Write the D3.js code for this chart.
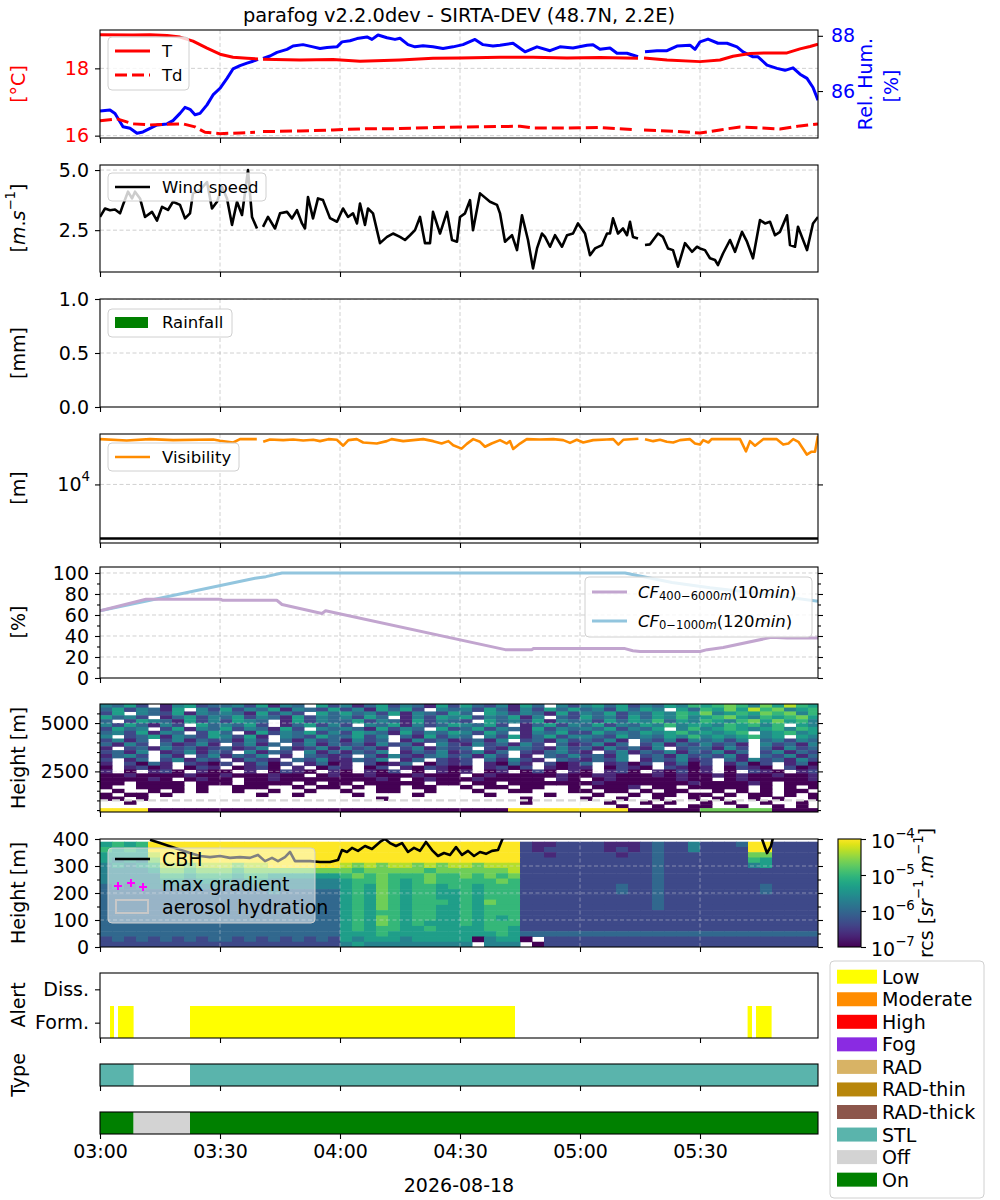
<!DOCTYPE html>
<html>
<head>
<meta charset="utf-8">
<title>parafog</title>
<script src="https://cdn.jsdelivr.net/npm/d3@7/dist/d3.min.js"></script>
<style>
  body { margin: 0; background: #fff; }
  text { font-family: "DejaVu Sans", sans-serif; }
</style>
</head>
<body>
<svg id="fig" width="1000" height="1200"></svg>
<script>
// ---- data (minutes after 03:00 UTC, 2026-08-18) ----
const tempMinutes = [0, 8.25, 12.5, 16.75, 20, 23.25, 26.75, 30, 33.25, 36.75, 39.5, 40, 40.75, 50, 58.25, 65, 75, 83.25, 90, 100, 108.25, 116.75, 125, 134.5, 135, 136, 141.75, 150, 155, 158.25, 162.5, 166.75, 171.75, 175, 177.5, 179.5];
const tempValues = [19.0, 18.99, 19.0, 18.98, 18.93, 18.81, 18.6, 18.42, 18.33, 18.3, 18.28, null, 18.27, 18.25, 18.26, 18.21, 18.25, 18.3, 18.31, 18.33, 18.33, 18.31, 18.32, 18.3, null, 18.31, 18.25, 18.2, 18.25, 18.36, 18.44, 18.46, 18.46, 18.58, 18.65, 18.72];

const dewMinutes = [0, 4.25, 8.25, 12.5, 16.75, 20.75, 23.75, 26.25, 30, 35, 38.75, 40, 40.75, 50, 58.25, 65, 75, 83.25, 91.75, 100, 105, 108.25, 116.75, 125, 133.25, 135, 136, 141.75, 150, 155, 160, 165, 170, 175, 179.5];
const dewValues = [16.44, 16.5, 16.35, 16.32, 16.34, 16.35, 16.26, 16.1, 16.06, 16.08, 16.1, null, 16.12, 16.14, 16.17, 16.2, 16.21, 16.24, 16.26, 16.27, 16.28, 16.23, 16.23, 16.24, 16.18, null, 16.17, 16.14, 16.08, 16.17, 16.26, 16.23, 16.2, 16.29, 16.35];

const rhMinutes = [0, 2.5, 3.75, 5.75, 7.5, 9.25, 10.75, 12.5, 14.25, 16.75,
  18.25, 20, 21.25, 22.5, 23.75, 25, 26.75, 28.25, 30, 31.75,
  33.25, 35, 36.75, 38.25, 39.5, 40, 40.75, 42.5, 44.25, 46.75,
  48.25, 50.75, 53.25, 55, 56.75, 59.25, 60.5, 62.5, 64.25, 66.75,
  68, 69.5, 71.75, 73.75, 75, 77, 78.75, 80.75, 83.25, 85.75,
  88.25, 90.75, 93.75, 95.75, 98.25, 100, 103.25, 106.25, 109.25, 112.5,
  115, 118.25, 121.75, 123.25, 125, 127.5, 129.25, 131.75, 134.5, 135,
  136.25, 139.25, 141.75, 144.25, 147.5, 148.75, 150, 152, 154.5, 156.75,
  159.25, 160.75, 163.25, 164.5, 166.75, 169.25, 171.25, 173.25, 175, 176.75,
  178.25, 179.5];
const rhValues = [85.28, 85.31, 85.19, 84.71, 84.65, 84.47, 84.52, 84.65, 84.77, 84.81,
  84.93, 85.19, 85.41, 85.34, 85.14, 85.19, 85.5, 85.86, 86.1, 86.46,
  86.8, 86.92, 87.01, 87.08, 87.15, null, 87.18, 87.27, 87.4, 87.51,
  87.63, 87.68, 87.6, 87.54, 87.58, 87.6, 87.78, 87.82, 87.9, 87.96,
  87.87, 88.03, 87.93, 87.87, 87.91, 87.68, 87.6, 87.64, 87.6, 87.54,
  87.6, 87.68, 87.87, 87.68, 87.63, 87.66, 87.73, 87.42, 87.6, 87.46,
  87.6, 87.56, 87.66, 87.68, 87.51, 87.56, 87.37, 87.37, 87.24, null,
  87.42, 87.46, 87.46, 87.63, 87.66, 87.51, 87.78, 87.88, 87.73, 87.73,
  87.6, 87.42, 87.24, 87.24, 86.94, 86.82, 86.75, 86.84, 86.61, 86.46,
  86.13, 85.67];

const windMinutes = [0, 1.25, 2.5, 3.75, 5, 5.75, 7, 8, 8.75, 10,
  11.25, 13, 14.25, 15.5, 17, 18.25, 20, 21.25, 22.5, 23.25,
  25, 26.75, 28, 29.25, 30.5, 31.75, 33, 34.25, 35.5, 37,
  38, 39.25, 39.75, 40.75, 42, 43.75, 45, 46.75, 48, 49.25,
  50.5, 51.25, 52, 53.25, 54.5, 55.75, 57.5, 59.25, 60.75, 62,
  63.25, 64.25, 65, 66.25, 67, 68.25, 70, 71.75, 73.25, 75,
  76.25, 77.5, 78.75, 80, 81.25, 82.5, 83.25, 85, 86.75, 88,
  89.25, 90, 91.25, 92.5, 93.25, 95, 97.5, 99.25, 100, 101.25,
  103, 104.25, 105.5, 107, 108.25, 109.25, 110.5, 111.25, 112.5, 113.75,
  115.5, 116.75, 118.25, 119.5, 121.25, 122.5, 123.75, 125.5, 126.75, 127.5,
  128.25, 129.5, 130.75, 131.75, 132.5, 133.25, 134.5, 135.5, 136.25, 137.5,
  139.5, 140.75, 142, 143.25, 144.5, 146.25, 148, 149.25, 150, 151.25,
  152.5, 153.75, 154.5, 155.75, 157.5, 158.75, 160.5, 161.75, 163.25, 165,
  166.25, 167.5, 168.75, 170, 171.75, 172.5, 173.75, 174.5, 176.75, 178.25,
  179.5];
const windValues = [3.05, 3.4, 3.33, 3.36, 3.2, 3.55, 4.1, 3.82, 4.1, 3.82,
  3.05, 3.26, 2.9, 3.47, 3.34, 3.68, 3.55, 2.99, 3.2, 4.03,
  4.17, 4.5, 3.4, 3.68, 4.3, 3.82, 2.72, 3.68, 3.13, 5.0,
  3.05, 2.57, null, 2.64, 3.05, 2.57, 3.2, 3.26, 2.99, 3.33,
  2.78, 2.57, 3.88, 2.99, 3.82, 3.75, 3.0, 2.85, 3.4, 3.05,
  3.2, 2.78, 3.61, 2.72, 3.4, 3.2, 1.96, 2.22, 2.36, 2.22,
  2.09, 2.29, 2.5, 3.05, 1.96, 1.96, 3.26, 2.36, 3.26, 2.09,
  2.02, 3.05, 3.2, 3.75, 2.5, 4.03, 3.68, 3.55, 3.2, 2.02,
  2.29, 1.67, 3.12, 2.09, 0.91, 1.74, 2.36, 2.22, 1.81, 2.29,
  1.81, 2.29, 2.36, 2.78, 2.36, 1.46, 1.74, 1.88, 2.36, 2.36,
  2.99, 2.36, 2.57, 2.29, 2.85, 2.22, 2.15, null, 1.88, 1.91,
  2.36, 2.22, 1.74, 1.67, 0.98, 1.96, 1.6, 1.81, 1.74, 1.67,
  1.33, 1.26, 1.05, 1.53, 2.09, 1.6, 2.43, 2.02, 1.33, 2.92,
  2.78, 2.85, 2.29, 2.43, 3.12, 1.88, 1.81, 2.64, 1.67, 2.78,
  3.05];

const visMinutes = [0, 6.67, 12.5, 18.3, 28.3, 30, 33.3, 35, 39.2, 39.75,
  40.8, 42.5, 45.8, 48.3, 50.8, 53.3, 55, 57.1, 59.2, 60.8,
  62.1, 64.2, 65.8, 69.2, 71.7, 72.9, 75.8, 78.3, 80.8, 83.3,
  85.4, 87.1, 88.3, 90.4, 91.7, 93.3, 95, 96.25, 97.9, 100,
  101.7, 102.5, 103.3, 105, 106.7, 110, 113.3, 115.8, 117.5, 119.2,
  120.8, 123.3, 126.7, 128.3, 129.6, 130.8, 134.6, 135.5, 136.25, 138.3,
  140, 141.7, 143.3, 145, 147.5, 148.75, 150, 150.8, 152.1, 152.9,
  160, 161.5, 162.5, 163.75, 165.8, 169.2, 170.8, 172.1, 173.3, 174.6,
  175.8, 176.7, 177.9, 178.75, 179.5];
const visValues = [20000, 19600, 20000, 19700, 19900, 19500, 19000, 20000, 20000, null,
  19200, 19900, 19700, 19900, 19600, 19800, 19400, 20000, 19800, 18100,
  19700, 20000, 19000, 18700, 19400, 20000, 19400, 19700, 20000, 19400,
  18700, 19400, 18200, 17300, 18600, 20000, 19200, 17800, 18700, 19700,
  18700, 19400, 17200, 18700, 20000, 19900, 20000, 19700, 18900, 19800,
  19000, 19700, 19900, 20000, 18400, 19800, 20100, null, 20000, 19400,
  19800, 19200, 19000, 19700, 20000, 18700, 18400, 19700, 19000, 20000,
  20000, 16600, 19400, 18100, 20000, 20000, 18400, 18700, 20000, 19200,
  17200, 15800, 16500, 16500, 21050];
const visThreshold = 4370;

const cfHighMinutes = [0, 11.5, 30.2, 30.6, 44.2, 45.5, 55.5, 56.4, 101.3, 108, 108.3, 131.25, 133.2, 135, 150, 151.8, 155.8, 167.8, 171.8, 179.5];
const cfHighValues = [64, 75, 75, 74, 74, 70, 61.5, 64, 27, 27, 28, 28, 26, 25.3, 25.3, 27, 29, 38.7, 38, 38];
const cfLowMinutes = [0, 38.75, 41.5, 45.5, 131.25, 143, 152.5, 165, 179.5];
const cfLowValues = [64, 95, 96.5, 100, 100, 91, 86, 80.5, 73];

// ceilometer range-corrected signal, one char per 3-min cell (0 = 1e-7 ... 9 = 1e-4, '.' = missing)
const rcsUpperRows = [
  "4352.14523 3425143.52 4135243152 5324153.42 4535243546 5676475865",
  "3524315.42 5243514325 2415352.43 4253142535 3425354.53 6575867456",
  "25.4325143 4315242.53 5342514325 3.54243152 4352435465 7456576746",
  "5342.13524 3524315243 4253.14254 5243514.32 5342535464 5675465675",
  "3.25431524 2543.15243 3524315243 2.53425143 4253546354 6546757564",
  "4253142.53 4352.13524 2.43514235 4352.13524 3524354645 5465646.54",
  "2534.25143 5243152.43 4315243.52 3524315243 4352435.46 4565456465",
  "3425143.25 3.15243524 2543152435 4253.14352 2534354564 5456.45645",
  "4.23514325 4251.43253 3524.31524 3.42513524 4325343546 4545645.54",
  "2413.24132 3142.31423 1423.14231 2314.23142 3241.32414 3424.34243",
  "3142.31241 .2413.2413 2314231.42 1423142.31 2413.24132 4231.42314",
  "1.23142312 3124.31241 4231.24132 3.21432142 3142314.23 3142.31423",
  "2314.12413 2.4132.413 1324.13241 2413.21342 1.24132413 2413.24132",
  "1342.31.24 1324.1.321 2.31421342 3142.1.324 2314.23142 3241.32413",
  "2.13.24132 .1321.3241 1324.13.21 2.31421.32 1324.13241 2.31423142",
  "1.2031.210 2.1302.130 1.2013.021 2.1031.201 3.1202.130 2.1302.130",
  "0.1201.021 .0120.1.02 1.02.10210 0.1202.101 1.0210.210 1.0210.201",
  "1.0.120.10 0.1.0210.1 0.102.0.10 1.01.020.1 0.120.1020 1.0.210.12",
  "0010000100 1000100.01 0010001000 .010000010 0110001010 0101001001",
  "000010.010 0.00100000 00010.0100 0100000.10 .010000010 0.01000001",
  "00.0000.00 0.0000.0.0 0.00000.00 .00.000000 0100000001 000010.000",
  "0..0000.0. .000..0.00 .0.00.00.. 0.00.00..0 .0001.00.0 0000.0.0.0",
  ".0..0.0.0. .0..0..0.. 0..00..0.. .0..00...0 0.00.0.00. .0.0.0.00.",
  "0.00.0.... ...0..0... .0....0... ..0....0.. .0..0.00.0 0.0.00.0.0",
  "00.0...... .......... ...0...... .....0.... 0..0..0..0 .0..0.0..0",
  "..0....... .......... .......... .....0.... ..0..0.0.. 0.0..0..0.",
  ".......... .......... .......... .......... ...0..0..0 0..0..0.0.",
  "9999000000 0000000000 0000000000 0000999999 9999000000 7777770000"
];
const rcsLowerRows = [
  "5656999999 9999999999 9999999999 9999921122 2211123224 2223992222",
  "6565999999 9999999999 9999999999 9999921222 2212123224 2222992222",
  "5555899999 9999999999 9999999999 9999922122 2221223222 2222772222",
  "5454799999 9999999999 9999999999 9999922222 2222223222 2222652222",
  "4545688788 8788999999 8787887878 8788822222 2222223222 2222452222",
  "4444577677 7677777777 7677777677 7777822222 2222223222 2222222222",
  "4444466566 6566555555 6767666766 7676722222 2222223222 2222222222",
  "4444455455 5455444444 5667656766 6667622222 2222223222 2222222222",
  "3434444444 4444444444 5657656656 6566622222 2223223222 2222232222",
  "3333333333 3333433333 5657656655 6566622222 2223223222 2222232222",
  "3333333333 3333333333 5657656655 6566622222 2222223222 2222222222",
  "3333333333 3333333333 5657656665 6576622222 2222223222 2222222222",
  "3333333333 3333333333 5657656655 6566622222 2222223222 2222222222",
  "3333333333 3333333333 5656656655 6566622222 2222222222 2222222222",
  "3333333333 3333333333 5657656655 6565622222 2222222222 2222222222",
  "3333333333 3333333333 5657656555 6566622222 2222222222 2222222222",
  "3333333333 3333333333 5656655655 5566522222 2222222222 2222222222",
  "3333333333 3333333333 5556555555 5556533333 3333333333 3333333333",
  "2323232323 3232323232 5455545555 504550.222 2222222222 2222222222",
  "2222222222 2222222222 4544444444 4.444.0222 2222222222 2222222222"
];

const cbhMinutes = [12.5, 15, 18.75, 22.5, 25, 27.5, 30, 32.5, 35, 37.5,
  39.5, 41.25, 43, 44.5, 46.25, 47.5, 48.75, 50, 52.5, 55,
  57.5, 59.5, 60.5, 61.75, 63, 64.5, 66.25, 68, 70, 71.25,
  72.5, 74, 75.5, 77, 78.5, 80, 81.5, 83, 84.5, 86,
  87.5, 89, 90.5, 92, 93.5, 95, 96.5, 98, 99.5, 100.75,
  130, 165.5, 166.75, 167.75, 168.25];
const cbhValues = [397, 385, 367, 348, 337, 333, 337, 330, 333, 330,
  341, 318, 330, 318, 333, 352, 318, 318, 318, 315,
  315, 322, 359, 352, 367, 356, 374, 363, 389, 400,
  385, 374, 385, 352, 367, 356, 389, 359, 337, 348,
  341, 370, 341, 356, 337, 352, 345, 356, 359, 405,
  null, 400, 348, 374, 405];

const alertStart = [2.5, 4.5, 22.5, 161.9, 164];
const alertEnd = [3.5, 8.4, 103.75, 163, 167.9];
const alertLevel = ["Low", "Low", "Low", "Low", "Low"];

const typeStart = [0, 22.5];
const typeEnd = [8.4, 179.5];
const typeName = ["STL", "STL"];

const stateStart = [0, 8.4, 22.5];
const stateEnd = [8.4, 22.5, 179.5];
const stateName = ["On", "Off", "On"];

const legendNames = ["Low", "Moderate", "High", "Fog", "RAD", "RAD-thin", "RAD-thick", "STL", "Off", "On"];
const legendColors = ["#ffff00", "#ff8c00", "#ff0000", "#8a2be2", "#d8b365", "#b8860b", "#8c564b", "#5ab4ac", "#d3d3d3", "#008000"];

// ---- drawing ----
const svg = d3.select("#fig");
const FONT = "DejaVu Sans";
const L = 100, R = 818;
const base = new Date(2026, 7, 18, 3, 0, 0);
const toDate = m => new Date(base.getTime() + m * 60000);
const x = d3.scaleTime().domain([toDate(0), toDate(179.5)]).range([L, R]);
const xTicks = d3.timeMinute.every(30).range(toDate(0), toDate(179.5));
const colorOf = name => legendColors[legendNames.indexOf(name)];

const defs = svg.append("defs");
let clipCount = 0;
function addPanel(top, bottom) {
  const id = "clip" + (clipCount++);
  defs.append("clipPath").attr("id", id).append("rect")
    .attr("x", L).attr("y", top).attr("width", R - L).attr("height", bottom - top);
  const g = svg.append("g");
  const inner = g.append("g").attr("clip-path", `url(#${id})`);
  return { g, inner, top, bottom };
}
function frame(p) {
  p.g.append("rect").attr("x", L).attr("y", p.top).attr("width", R - L).attr("height", p.bottom - p.top)
    .attr("fill", "none").attr("stroke", "#000").attr("stroke-width", 1.1);
}
function styleAxis(a, color) {
  a.attr("font-family", FONT).attr("font-size", 19);
  a.select(".domain").remove();
  a.selectAll(".tick line").attr("stroke", "#000").attr("stroke-width", 1.1);
  a.selectAll(".tick text").attr("fill", color || "#000");
  return a;
}
function xAxis(p, withLabels) {
  const a = p.g.append("g").attr("transform", `translate(0,${p.bottom})`)
    .call(d3.axisBottom(x).tickValues(xTicks).tickSize(5).tickPadding(6)
      .tickFormat(withLabels ? d3.timeFormat("%H:%M") : ""));
  styleAxis(a);
}
function yAxis(p, scale, ticks, opts = {}) {
  const side = opts.right ? d3.axisRight : d3.axisLeft;
  const a = p.g.append("g").attr("transform", `translate(${opts.right ? R : L},0)`)
    .call(side(scale).tickValues(ticks).tickSize(opts.size || 5).tickPadding(opts.pad || 6)
      .tickFormat(opts.fmt === undefined ? d3.format("") : opts.fmt));
  styleAxis(a, opts.color);
  return a;
}
function gridX(p, color, opacity) {
  p.inner.append("g").selectAll("line").data(xTicks.slice(1)).join("line")
    .attr("x1", d => x(d)).attr("x2", d => x(d)).attr("y1", p.top).attr("y2", p.bottom)
    .attr("stroke", color).attr("stroke-opacity", opacity).attr("stroke-width", 1)
    .attr("stroke-dasharray", "4,2.5");
}
function gridY(p, scale, ticks, color, opacity) {
  p.inner.append("g").selectAll("line").data(ticks).join("line")
    .attr("x1", L).attr("x2", R).attr("y1", d => scale(d)).attr("y2", d => scale(d))
    .attr("stroke", color).attr("stroke-opacity", opacity).attr("stroke-width", 1)
    .attr("stroke-dasharray", "4,2.5");
}
function series(minutes, values) {
  return minutes.map((m, i) => ({ t: toDate(m), v: values[i] }));
}
function drawLine(p, data, y, color, width, dash) {
  p.inner.append("path").datum(data)
    .attr("d", d3.line().defined(d => d.v != null).x(d => x(d.t)).y(d => y(d.v)))
    .attr("fill", "none").attr("stroke", color).attr("stroke-width", width)
    .attr("stroke-linejoin", "round").attr("stroke-dasharray", dash || null);
}
function rich(sel, parts, size) {
  let shift = 0;
  parts.forEach(q => {
    const off = q.sup ? -0.42 * size : q.sub ? 0.25 * size : 0;
    sel.append("tspan").attr("dy", off - shift)
      .attr("font-size", (q.sup || q.sub) ? 0.7 * size : size)
      .attr("font-style", q.it ? "italic" : null)
      .text(q.t);
    shift = off;
  });
  return sel;
}
function yLabel(parts, cx, cy, color) {
  const t = svg.append("text").attr("transform", `translate(${cx},${cy}) rotate(-90)`)
    .attr("text-anchor", "middle").attr("dominant-baseline", "central")
    .attr("font-family", FONT).attr("font-size", 19).attr("fill", color || "#000");
  rich(t, typeof parts === "string" ? [{ t: parts }] : parts, 19);
}
function legendBox(p, x0, y0, w, h, alpha) {
  p.g.append("rect").attr("x", x0).attr("y", y0).attr("width", w).attr("height", h).attr("rx", 4)
    .attr("fill", "#fff").attr("fill-opacity", alpha).attr("stroke", "#d0d0d0").attr("stroke-width", 1);
}
function legendText(p, x0, y0, parts, size) {
  const t = p.g.append("text").attr("x", x0).attr("y", y0).attr("dominant-baseline", "central")
    .attr("font-family", FONT).attr("font-size", size || 16.5).attr("fill", "#000");
  rich(t, typeof parts === "string" ? [{ t: parts }] : parts, size || 16.5);
}
function legendLine(p, y0, color, width, dash) {
  p.g.append("line").attr("x1", 115).attr("x2", 150).attr("y1", y0).attr("y2", y0)
    .attr("stroke", color).attr("stroke-width", width).attr("stroke-dasharray", dash || null);
}

// title
svg.append("text").attr("x", (L + R) / 2).attr("y", 22).attr("text-anchor", "middle")
  .attr("font-family", FONT).attr("font-size", 19.4).text("parafog v2.2.0dev - SIRTA-DEV (48.7N, 2.2E)");

// 1. temperature / humidity
const p1 = addPanel(30, 138);
const yT = d3.scaleLinear().domain([15.93, 19.14]).range([138, 30]);
const yRH = d3.scaleLinear().domain([84.30, 88.21]).range([138, 30]);
gridX(p1, "#b0b0b0", 0.6);
gridY(p1, yT, [16, 18], "#b0b0b0", 0.6);
drawLine(p1, series(rhMinutes, rhValues), yRH, "#0000ff", 3);
drawLine(p1, series(tempMinutes, tempValues), yT, "#ff0000", 3);
drawLine(p1, series(dewMinutes, dewValues), yT, "#ff0000", 3, "12,5");
legendBox(p1, 108, 37, 81, 53, 0.8);
legendLine(p1, 51, "#ff0000", 3);
legendLine(p1, 75, "#ff0000", 3, "12,5");
legendText(p1, 162, 51, "T");
legendText(p1, 162, 75, "Td");
frame(p1);
xAxis(p1, false);
yAxis(p1, yT, [16, 18], { color: "#ff0000" });
yAxis(p1, yRH, [86, 88], { right: true, color: "#0000ff", pad: 8 });
yLabel("[°C]", 18, 84, "#ff0000");
svg.append("text").attr("transform", "translate(865,84) rotate(-90)")
  .attr("text-anchor", "middle").attr("dominant-baseline", "central")
  .attr("font-family", FONT).attr("font-size", 19).attr("fill", "#0000ff").text("Rel. Hum.");
svg.append("text").attr("transform", "translate(891,86) rotate(-90)")
  .attr("text-anchor", "middle").attr("dominant-baseline", "central")
  .attr("font-family", FONT).attr("font-size", 19).attr("fill", "#0000ff").text("[%]");

// 2. wind speed
const p2 = addPanel(165, 272);
const yW = d3.scaleLinear().domain([0.76, 5.21]).range([272, 165]);
gridX(p2, "#b0b0b0", 0.6);
gridY(p2, yW, [2.5, 5.0], "#b0b0b0", 0.6);
drawLine(p2, series(windMinutes, windValues), yW, "#000", 2.6);
legendBox(p2, 108, 173, 158, 28, 0.8);
legendLine(p2, 187, "#000", 2.6);
legendText(p2, 162, 187, "Wind speed");
frame(p2);
xAxis(p2, false);
yAxis(p2, yW, [2.5, 5.0], { fmt: d3.format(".1f") });
yLabel([{ t: "[" }, { t: "m", it: 1 }, { t: "." }, { t: "s", it: 1 }, { t: "−1", sup: 1 }, { t: "]" }], 18, 218);

// 3. rainfall
const p3 = addPanel(299, 407);
const yRain = d3.scaleLinear().domain([0, 1]).range([407, 299]);
gridX(p3, "#b0b0b0", 0.6);
gridY(p3, yRain, [0.5, 1.0], "#b0b0b0", 0.6);
legendBox(p3, 108, 309, 124, 28, 0.8);
p3.g.append("rect").attr("x", 115).attr("y", 317).attr("width", 33).attr("height", 11).attr("fill", "#008000");
legendText(p3, 162, 322, "Rainfall");
frame(p3);
xAxis(p3, false);
yAxis(p3, yRain, [0, 0.5, 1.0], { fmt: d3.format(".1f") });
yLabel("[mm]", 18, 353);

// 4. visibility
const p4 = addPanel(434, 543);
const yVis = d3.scaleLog().domain([4080, 21640]).range([543, 434]);
gridX(p4, "#b0b0b0", 0.6);
gridY(p4, yVis, [1e4], "#b0b0b0", 0.6);
drawLine(p4, series(visMinutes, visValues), yVis, "#ff8c00", 2.6);
p4.inner.append("line").attr("x1", L).attr("x2", R).attr("y1", yVis(visThreshold)).attr("y2", yVis(visThreshold))
  .attr("stroke", "#000").attr("stroke-width", 2.6);
legendBox(p4, 108, 443, 131, 28, 0.8);
legendLine(p4, 457, "#ff8c00", 2.6);
legendText(p4, 162, 457, "Visibility");
frame(p4);
xAxis(p4, false);
yAxis(p4, yVis, [1e4], { fmt: "" });
yAxis(p4, yVis, [1e4], { right: true, fmt: "" });
const visTick = p4.g.append("text").attr("x", 90).attr("y", yVis(1e4)).attr("text-anchor", "end")
  .attr("dominant-baseline", "central").attr("font-family", FONT).attr("font-size", 19);
rich(visTick, [{ t: "10" }, { t: "4", sup: 1 }], 19);
yLabel("[m]", 18, 488);

// 5. cloud fraction
const p5 = addPanel(567, 678);
const yCF = d3.scaleLinear().domain([0, 105.7]).range([678, 567]);
const cfMajor = [0, 20, 40, 60, 80, 100], cfMinor = [10, 30, 50, 70, 90];
gridX(p5, "#b0b0b0", 0.6);
gridY(p5, yCF, cfMajor.slice(1), "#b0b0b0", 0.6);
drawLine(p5, series(cfLowMinutes, cfLowValues), yCF, "#92c5de", 3);
drawLine(p5, series(cfHighMinutes, cfHighValues), yCF, "#c2a5cf", 3);
legendBox(p5, 585, 577, 227, 60, 0.8);
p5.g.append("line").attr("x1", 592).attr("x2", 627).attr("y1", 592).attr("y2", 592).attr("stroke", "#c2a5cf").attr("stroke-width", 3);
p5.g.append("line").attr("x1", 592).attr("x2", 627).attr("y1", 621).attr("y2", 621).attr("stroke", "#92c5de").attr("stroke-width", 3);
const cfLab1 = p5.g.append("text").attr("x", 638).attr("y", 592).attr("dominant-baseline", "central").attr("font-size", 16.5).attr("font-family", FONT);
rich(cfLab1, [{ t: "CF", it: 1 }, { t: "400−6000", sub: 1 }, { t: "m", sub: 1, it: 1 }, { t: "(10" }, { t: "min", it: 1 }, { t: ")" }], 16.5);
const cfLab2 = p5.g.append("text").attr("x", 638).attr("y", 621).attr("dominant-baseline", "central").attr("font-size", 16.5).attr("font-family", FONT);
rich(cfLab2, [{ t: "CF", it: 1 }, { t: "0−1000", sub: 1 }, { t: "m", sub: 1, it: 1 }, { t: "(120" }, { t: "min", it: 1 }, { t: ")" }], 16.5);
frame(p5);
xAxis(p5, false);
yAxis(p5, yCF, cfMajor);
yAxis(p5, yCF, cfMinor, { size: 3, fmt: "" });
yAxis(p5, yCF, cfMajor, { right: true, fmt: "" });
yAxis(p5, yCF, cfMinor, { right: true, size: 3, fmt: "" });
yLabel("[%]", 18, 622);

// ceilometer colour scale
const rcsColor = d3.scaleSequentialLog(d3.interpolateViridis).domain([1e-7, 1e-4]);
const levelValue = ch => Math.pow(10, -7 + (+ch) / 3);
function gridCells(rows, topH, stepH) {
  const cells = [];
  rows.map(r => r.replace(/ /g, "")).forEach((row, r) => {
    [...row].forEach((ch, c) => {
      if (ch === ".") return;
      cells.push({ t0: toDate(c * 3), t1: toDate(c * 3 + 3), h1: topH - r * stepH, h0: topH - (r + 1) * stepH, v: levelValue(ch) });
    });
  });
  return cells;
}
function drawCells(p, cells, y) {
  p.inner.append("g").selectAll("rect").data(cells).join("rect")
    .attr("x", d => x(d.t0)).attr("width", d => x(d.t1) - x(d.t0) + 0.5)
    .attr("y", d => y(d.h1)).attr("height", d => y(d.h0) - y(d.h1) + 0.5)
    .attr("fill", d => rcsColor(d.v));
}

// 6. ceilometer, full range
const p6 = addPanel(704, 812);
const yUp = d3.scaleLinear().domain([400, 5985]).range([812, 704]);
drawCells(p6, gridCells(rcsUpperRows, 6000, 200), yUp);
gridX(p6, "#dddddd", 0.45);
gridY(p6, yUp, [2500, 5000], "#dddddd", 0.45);
p6.inner.append("line").attr("x1", L).attr("x2", R).attr("y1", yUp(1000)).attr("y2", yUp(1000))
  .attr("stroke", "#d8d8d8").attr("stroke-width", 2.2).attr("stroke-dasharray", "8,4");
frame(p6);
xAxis(p6, false);
const upMinor = d3.range(500, 6000, 500).filter(v => v % 2500 !== 0);
yAxis(p6, yUp, [2500, 5000]);
yAxis(p6, yUp, upMinor, { size: 3, fmt: "" });
yAxis(p6, yUp, [2500, 5000], { right: true, fmt: "" });
yAxis(p6, yUp, upMinor, { right: true, size: 3, fmt: "" });
yLabel("Height [m]", 18, 758);

// 7. ceilometer, lowest 400 m
const p7 = addPanel(839, 947);
const yLow = d3.scaleLinear().domain([0, 400]).range([947, 839]);
drawCells(p7, gridCells(rcsLowerRows, 390, 19.5), yLow);
gridX(p7, "#dddddd", 0.45);
gridY(p7, yLow, [100, 200, 300], "#dddddd", 0.45);
drawLine(p7, series(cbhMinutes, cbhValues), yLow, "#000", 2.6);
legendBox(p7, 108, 848, 207, 75, 0.5);
legendLine(p7, 859, "#000", 2.6);
[[118, 886], [131, 883], [143, 887]].forEach(([px, py]) => {
  p7.g.append("path").attr("d", `M${px - 4},${py}H${px + 4}M${px},${py - 4}V${py + 4}`)
    .attr("stroke", "#ff00ff").attr("stroke-width", 2);
});
p7.g.append("rect").attr("x", 116).attr("y", 900).attr("width", 32).attr("height", 13)
  .attr("fill", "none").attr("stroke", "#c8c8c8").attr("stroke-width", 2);
legendText(p7, 162, 859, "CBH", 19);
legendText(p7, 162, 884, "max gradient", 19);
legendText(p7, 162, 907, "aerosol hydration", 19);
frame(p7);
xAxis(p7, false);
const lowMinor = [50, 150, 250, 350];
yAxis(p7, yLow, [0, 100, 200, 300, 400]);
yAxis(p7, yLow, lowMinor, { size: 3, fmt: "" });
yAxis(p7, yLow, [0, 100, 200, 300, 400], { right: true, fmt: "" });
yAxis(p7, yLow, lowMinor, { right: true, size: 3, fmt: "" });
yLabel("Height [m]", 18, 893);

// colorbar
const cbY = d3.scaleLog().domain([1e-7, 1e-4]).range([947, 839]);
const grad = defs.append("linearGradient").attr("id", "viridis").attr("x1", 0).attr("x2", 0).attr("y1", 1).attr("y2", 0);
d3.range(0, 1.0001, 0.05).forEach(s => grad.append("stop").attr("offset", s).attr("stop-color", d3.interpolateViridis(s)));
svg.append("rect").attr("x", 838).attr("y", 839).attr("width", 23).attr("height", 108)
  .attr("fill", "url(#viridis)").attr("stroke", "#000").attr("stroke-width", 1.1);
const cbAxis = svg.append("g").attr("transform", "translate(861,0)")
  .call(d3.axisRight(cbY).tickValues([1e-7, 1e-6, 1e-5, 1e-4]).tickSize(5).tickFormat(""));
styleAxis(cbAxis);
[-7, -6, -5, -4].forEach(e => {
  const t = svg.append("text").attr("x", 871).attr("y", cbY(Math.pow(10, e)) + 2).attr("dominant-baseline", "central")
    .attr("font-family", FONT).attr("font-size", 19);
  rich(t, [{ t: "10" }, { t: "−" + (-e), sup: 1 }], 19);
});
yLabel([{ t: "rcs [" }, { t: "sr", it: 1 }, { t: "−1", sup: 1 }, { t: "." }, { t: "m", it: 1 }, { t: "−1", sup: 1 }, { t: "]" }], 926, 893);

// 8. alert level
const p8 = addPanel(973, 1038);
const yAlert = d3.scaleLinear().domain([-0.46, 1.49]).range([1038, 973]);
p8.inner.selectAll("rect").data(alertStart.map((s, i) => ({ s, e: alertEnd[i], name: alertLevel[i] }))).join("rect")
  .attr("x", d => x(toDate(d.s))).attr("width", d => x(toDate(d.e)) - x(toDate(d.s)))
  .attr("y", yAlert(0.5)).attr("height", yAlert(-0.5) - yAlert(0.5))
  .attr("fill", d => colorOf(d.name));
frame(p8);
xAxis(p8, false);
yAxis(p8, yAlert, [0, 1], { fmt: d => d === 1 ? "Diss." : "Form." });
yLabel("Alert", 18, 1005);

// 9. fog type
const p9 = addPanel(1064, 1086);
p9.inner.selectAll("rect").data(typeStart.map((s, i) => ({ s, e: typeEnd[i], name: typeName[i] }))).join("rect")
  .attr("x", d => x(toDate(d.s))).attr("width", d => x(toDate(d.e)) - x(toDate(d.s)))
  .attr("y", 1064).attr("height", 22).attr("fill", d => colorOf(d.name));
frame(p9);
xAxis(p9, false);
yLabel("Type", 18, 1075);

// 10. instrument state
const p10 = addPanel(1112, 1134);
p10.inner.selectAll("rect").data(stateStart.map((s, i) => ({ s, e: stateEnd[i], name: stateName[i] }))).join("rect")
  .attr("x", d => x(toDate(d.s))).attr("width", d => x(toDate(d.e)) - x(toDate(d.s)))
  .attr("y", 1112).attr("height", 22).attr("fill", d => colorOf(d.name));
frame(p10);
xAxis(p10, true);
svg.append("text").attr("x", (L + R) / 2).attr("y", 1192).attr("text-anchor", "middle")
  .attr("font-family", FONT).attr("font-size", 19).text(d3.timeFormat("%Y-%m-%d")(base));

// category legend
const lg = svg.append("g");
lg.append("rect").attr("x", 830).attr("y", 961).attr("width", 154).attr("height", 237).attr("rx", 4)
  .attr("fill", "#fff").attr("stroke", "#d0d0d0");
legendNames.forEach((name, i) => {
  const cy = 976.7 + i * 22.55;
  lg.append("rect").attr("x", 837).attr("y", cy - 7).attr("width", 40).attr("height", 14).attr("fill", legendColors[i]);
  lg.append("text").attr("x", 882).attr("y", cy).attr("dominant-baseline", "central")
    .attr("font-family", FONT).attr("font-size", 19).text(name);
});
</script>
</body>
</html>
